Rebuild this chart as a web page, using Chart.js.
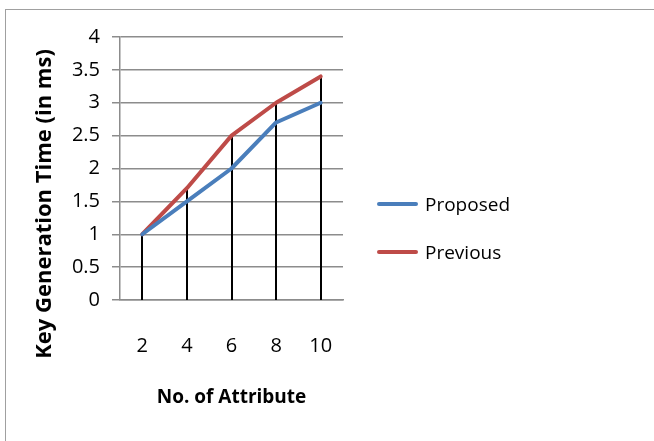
<!DOCTYPE html>
<html>
<head>
<meta charset="utf-8">
<script src="https://cdn.jsdelivr.net/npm/chart.js@4/dist/chart.umd.min.js"></script>
<style>
    html, body { margin: 0; padding: 0; background: #fff; }
    #frame {
        position: absolute; left: 5px; top: 9px;
        width: 700px; height: 500px;
        border: 1px solid #a0a0a0;
    }
    #wrap { position: absolute; left: 0; top: 0; width: 654px; height: 441px; }
    #legend {
        position: absolute; left: 377px; top: 191px;
        font: 19px 'Open Sans', sans-serif; line-height: 26px; color: #000;
    }
    .item { height: 48px; display: flex; align-items: flex-start; }
    .swatch { width: 41px; height: 4px; border-radius: 2px; margin-top: 11px; margin-right: 7px; }
</style>
</head>
<body>
<div id="frame"></div>
<div id="wrap"><canvas id="chart" width="654" height="441"></canvas></div>
<div id="legend"></div>
<script>
const attributes = ['2', '4', '6', '8', '10'];
const proposed = [1, 1.5, 2, 2.7, 3];
const previous = [1, 1.7, 2.5, 3, 3.4];
const yTicks = [0, 0.5, 1, 1.5, 2, 2.5, 3, 3.5, 4];

const textFont = "'Open Sans', sans-serif";

// vertical black lines from the highest point down to the axis (Excel drop lines)
const dropLines = {
    id: 'dropLines',
    beforeDatasetsDraw(chart) {
        const ctx = chart.ctx;
        const x = chart.scales.x;
        const y = chart.scales.y;
        ctx.save();
        ctx.strokeStyle = '#000';
        ctx.lineWidth = 2;
        attributes.forEach((a, i) => {
            const top = Math.max(proposed[i], previous[i]);
            const px = Math.round(x.getPixelForValue(i));
            ctx.beginPath();
            ctx.moveTo(px, y.getPixelForValue(top));
            ctx.lineTo(px, y.getPixelForValue(0));
            ctx.stroke();
        });
        ctx.restore();
    }
};

// y title centred on the whole chart height like Excel does
const yTitle = {
    id: 'yTitle',
    afterDraw(chart) {
        const ctx = chart.ctx;
        ctx.save();
        ctx.translate(45, 204);
        ctx.rotate(-Math.PI / 2);
        ctx.font = "bold 22px " + textFont;
        ctx.fillStyle = '#000';
        ctx.textAlign = 'center';
        ctx.textBaseline = 'middle';
        ctx.fillText('Key Generation Time (in ms)', 0, 0);
        ctx.restore();
    }
};

const chart = new Chart(document.getElementById('chart'), {
    type: 'line',
    data: {
        labels: attributes,
        datasets: [{
            label: 'Proposed',
            data: proposed,
            borderColor: '#4A7EBB',
            backgroundColor: '#4A7EBB',
            borderWidth: 4,
            pointRadius: 0,
            tension: 0,
            borderCapStyle: 'round',
            borderJoinStyle: 'round'
        }, {
            label: 'Previous',
            data: previous,
            borderColor: '#BE4B48',
            backgroundColor: '#BE4B48',
            borderWidth: 4,
            pointRadius: 0,
            tension: 0,
            borderCapStyle: 'round',
            borderJoinStyle: 'round'
        }]
    },
    options: {
        responsive: false,
        animation: false,
        layout: {
            padding: { left: 0, right: 311, top: 37, bottom: 22 }
        },
        plugins: {
            legend: { display: false },
            tooltip: { enabled: false }
        },
        scales: {
            x: {
                offset: true,
                grid: { display: false, drawTicks: false },
                border: { display: true, color: '#8c8c8c', width: 1.5 },
                ticks: {
                    padding: 34,
                    color: '#000',
                    font: { family: textFont, size: 20 }
                },
                title: {
                    display: true,
                    text: 'No. of Attribute',
                    color: '#000',
                    font: { family: textFont, size: 19, weight: 'bold' },
                    padding: { top: 0, bottom: 10 }
                },
                afterFit(scale) { scale.height = 119; }
            },
            y: {
                min: 0,
                max: 4,
                afterBuildTicks(scale) {
                    scale.ticks = yTicks.map(v => ({ value: v }));
                },
                grid: { color: '#8c8c8c', lineWidth: 1.5, tickLength: 8 },
                border: { display: true, color: '#8c8c8c', width: 1.5 },
                ticks: {
                    padding: 12,
                    color: '#000',
                    font: { family: textFont, size: 20 },
                    callback: v => String(v)
                },
                afterFit(scale) { scale.width = 120; }
            }
        }
    },
    plugins: [dropLines, yTitle]
});

// legend built from the chart's datasets
const legend = document.getElementById('legend');
chart.data.datasets.forEach(ds => {
    const item = document.createElement('div');
    item.className = 'item';
    const sw = document.createElement('span');
    sw.className = 'swatch';
    sw.style.background = ds.borderColor;
    const label = document.createElement('span');
    label.textContent = ds.label;
    item.appendChild(sw);
    item.appendChild(label);
    legend.appendChild(item);
});
</script>
</body>
</html>
